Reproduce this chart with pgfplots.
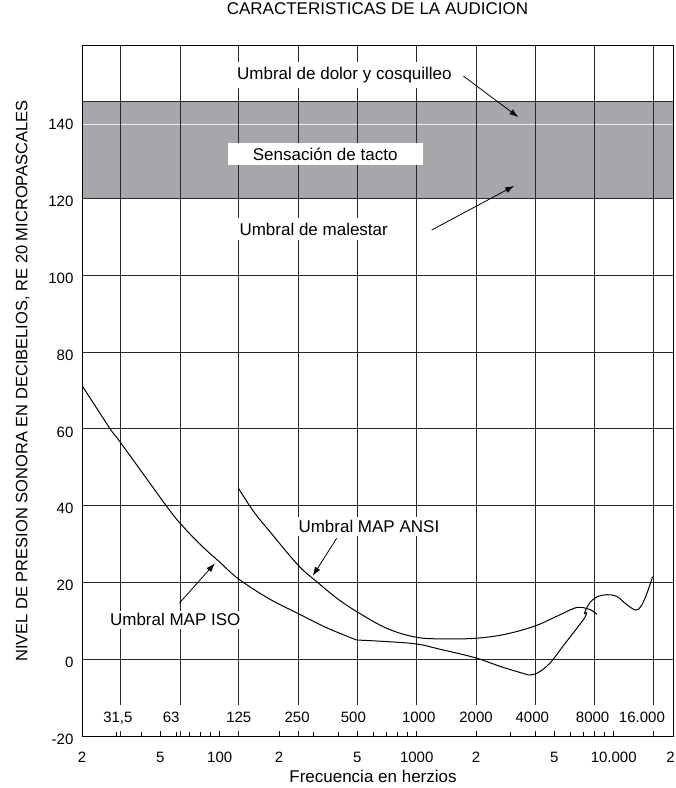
\documentclass[border=0pt]{standalone}
\usepackage{fontspec}
\setmainfont{Liberation Sans}
\usepackage{pgfplots}
\pgfplotsset{compat=1.18}
\usetikzlibrary{arrows.meta}
\definecolor{bandgray}{RGB}{166,167,171}
\definecolor{gridc}{RGB}{40,40,40}
\newcommand{\tf}{\fontsize{17}{20}\selectfont}
\newcommand{\yf}{\fontsize{16.5}{20}\selectfont}
\newcommand{\nf}{\fontsize{15}{18}\selectfont}
\begin{document}
\begin{tikzpicture}
\begin{axis}[
  name=ax, set layers,
  scale only axis, width=591pt, height=691pt,
  xmode=log, xmin=20, xmax=20000, ymin=-20, ymax=160,
  xtick={20,50,100,200,500,1000,2000,5000,10000,20000},
  xticklabels={2,5,100,2,5,1000,2,5,10.000,\makebox[8.3pt][l]{\kern-2.6pt 2}},
  minor xtick={30,40,60,70,80,90,300,400,600,700,800,900,3000,4000,6000,7000,8000,9000},
  xtick pos=left, tick align=inside,
  major tick length=5pt, minor tick length=4pt,
  ytick={-20,0,20,40,60,80,100,120,140},
  yticklabels={-20,0,20,40,60,80,100,120,140},
  ytick style={draw=none},
  extra y ticks={0,20,40,60,80,100,120},
  extra y tick labels={},
  extra y tick style={grid=major, major tick length=0pt},
  extra x ticks={31.5,63,125,250,500,1000,2000,4000,8000,16000},
  extra x tick labels={},
  extra x tick style={grid=major, major tick length=0pt},
  major grid style={gridc, line width=0.9pt},
  axis line style={black, line width=0.9pt},
  tick style={black, line width=0.8pt},
  ticklabel style={font=\nf},
  xticklabel style={anchor=north, inner sep=0pt, yshift=-15.7pt},
  yticklabel style={anchor=east, inner sep=0pt, xshift=-8.4pt, yshift=-3pt},
  title={CARACTERISTICAS DE LA AUDICION},
  title style={at={(axis description cs:0.5,1.0352)}, anchor=base, inner sep=0pt, font=\tf},
  xlabel={Frecuencia en herzios},
  xlabel style={at={(axis description cs:0.4924,-0.068)}, anchor=base, inner sep=0pt, font=\tf},
  ylabel={NIVEL DE PRESION SONORA EN DECIBELIOS, RE 20 MICROPASCALES},
  ylabel style={at={(axis description cs:-0.0926,0.5137)}, anchor=base, inner sep=0pt, font=\yf},
]
% band
\addplot[on layer=axis background, fill=bandgray, draw=gridc, line width=0.9pt]
  coordinates {(20,120) (20000,120) (20000,145.4) (20,145.4)} -- cycle;
\addplot[on layer=axis background, draw=white!92!black, line width=1.1pt]
  coordinates {(20,139.4) (20000,139.4)};

% ISO curve
\addplot[black, line width=1pt, smooth, tension=0.6] coordinates {
 (20,71.3) (27.8,60.0) (30.4,57.4) (40.2,48.8) (52.8,40.4) (62,35.8) (80,29.8)
 (100,25.3) (124,21.0) (176,15.9) (250,11.9) (349,8.2) (496,5.0)};
\addplot[black, line width=1pt, smooth, tension=0.6] coordinates {
 (496,5.0) (700,4.6) (1000,3.96) (1313,2.6) (1977,0.4) (2700,-2.0) (3690,-4.1)};
\addplot[black, line width=1pt, smooth, tension=0.6] coordinates {
 (3690,-4.1) (4100,-3.6) (4750,-1.0) (5546,3.5) (6486,8.0) (7145,10.9) (7290,12.2)};
\addplot[black, line width=1pt] coordinates {(7290,12.2) (7090,11.8)};
\addplot[black, line width=1pt, smooth, tension=0.6] coordinates {
 (7090,11.8) (7240,13.0) (7590,14.8) (8200,16.2) (9210,16.8) (10340,16.4)
 (11600,14.3) (12940,12.8) (13790,13.9) (14700,17.0) (15760,21.5)};

% ANSI curve
\addplot[black, line width=1pt, smooth, tension=0.6] coordinates {
 (124,44.7) (148,38.6) (180,33.2) (250,24.5) (311,20.2) (393,15.9) (496,12.4)
 (705,8.05) (1000,5.7) (1400,5.3) (1977,5.45) (2754,6.4) (3909,8.5) (5000,10.9)
 (6243,13.2) (6800,13.5) (7300,13.2) (7800,12.6) (8200,11.7)};

% octave labels
\tikzset{oct/.style={anchor=base, fill=white, font=\nf, text height=11pt, text depth=1.5pt, inner xsep=1.5pt, inner ysep=6.5pt}}
\node[oct, xshift=-3pt] at (axis cs:31.5,-16.5) {31,5};
\node[oct, xshift=-9pt] at (axis cs:63,-16.5) {63};
\node[oct] at (axis cs:125,-16.5) {125};
\node[oct, xshift=-1pt] at (axis cs:250,-16.5) {250};
\node[oct, xshift=-4pt] at (axis cs:500,-16.5) {500};
\node[oct, xshift=2pt] at (axis cs:1000,-16.5) {1000};
\node[oct] at (axis cs:2000,-16.5) {2000};
\node[oct, xshift=-3pt] at (axis cs:4000,-16.5) {4000};
\node[oct, xshift=-2pt] at (axis cs:8000,-16.5) {8000};
\node[oct, xshift=-12pt] at (axis cs:16000,-16.5) {16.000};

% annotations
\node[anchor=base west, fill=white, inner xsep=2pt, inner ysep=5pt, xshift=-2pt, font=\tf] at (axis cs:122.4,151.1) {Umbral de dolor y cosquilleo};
\node[anchor=base west, fill=white, inner xsep=2pt, inner ysep=5pt, xshift=-2pt, font=\tf] at (axis cs:125.8,110.5) {Umbral de malestar};
\node[fill=white, minimum width=195pt, minimum height=21.7pt, inner sep=0pt, text height=12pt, text depth=0pt, font=\tf] at (axis cs:343.2,131.56) {Sensación de tacto};
\node[anchor=base west, fill=white, inner sep=3pt, xshift=-3pt, font=\tf] at (axis cs:250.6,33.0) {Umbral MAP ANSI};
\node[anchor=base west, fill=white, inner sep=3pt, xshift=-3pt, font=\tf] at (axis cs:27.7,8.7) {Umbral MAP ISO};

\tikzset{arr/.style={-{Latex[length=9pt,width=6pt]}, line width=0.8pt}}
\draw[arr] (axis cs:1726,151.9) -- (axis cs:3281,141.2);
\draw[arr] (axis cs:1191,111.8) -- (axis cs:3127,123.3);
\draw[arr] (axis cs:62.4,14.6) -- (axis cs:94.6,25.0);
\draw[arr] (axis cs:392.6,31.5) -- (axis cs:296.6,21.7);
\end{axis}
\pgfresetboundingbox
\path[use as bounding box] ([shift={(-82pt,-52pt)}]ax.south west) rectangle ([shift={(2pt,45pt)}]ax.north east);
\end{tikzpicture}
\end{document}
